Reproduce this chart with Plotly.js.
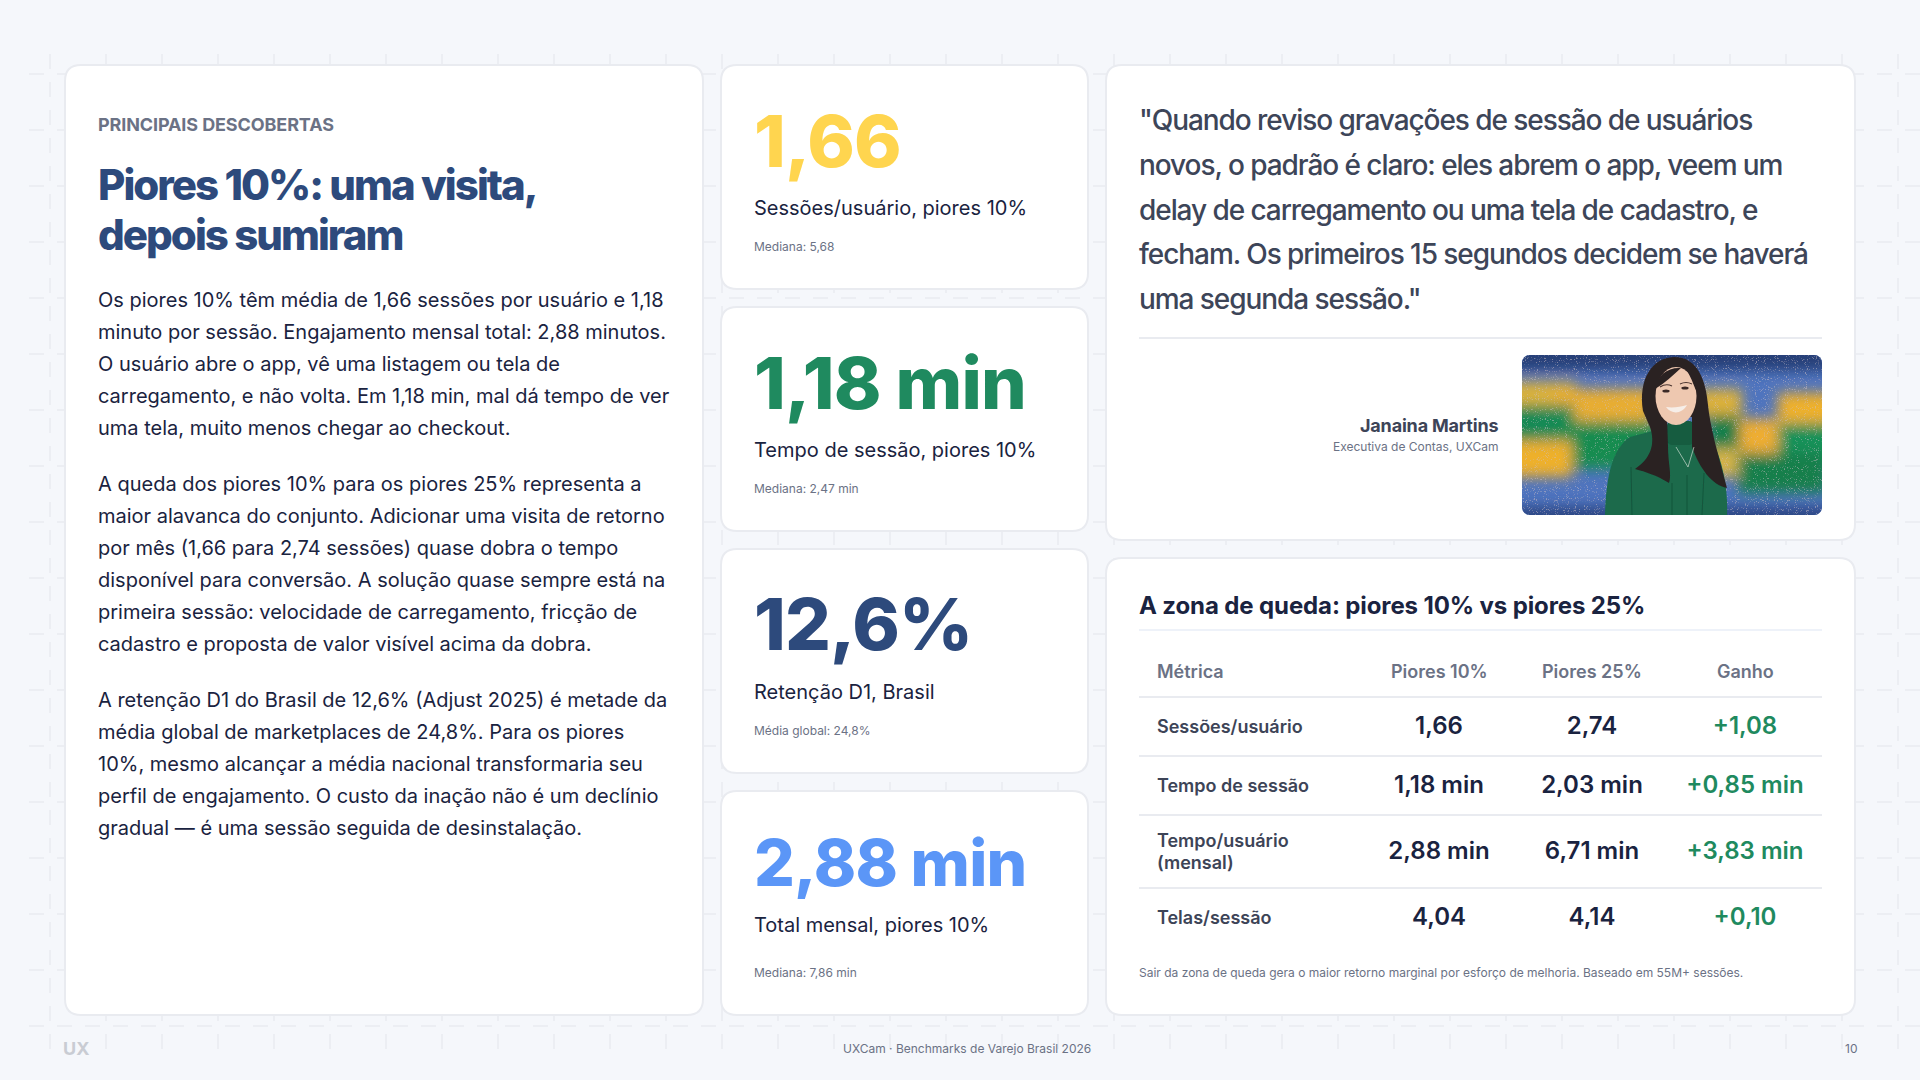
<!DOCTYPE html>
<html lang="pt-BR">
<head>
<meta charset="utf-8">
<title>Piores 10%</title>
<script src="https://cdn.plot.ly/plotly-3.0.1.min.js"></script>
<style>
  html, body { margin: 0; padding: 0; background: #f5f7fb; }
  #grafico { width: 1920px; height: 1080px; }
</style>
</head>
<body>
<div id="grafico"></div>
<script>
// textos do painel esquerdo
const rotuloSecao = "PRINCIPAIS DESCOBERTAS";
const tituloLinhas = ["Piores 10%: uma visita,", "depois sumiram"];
const paragrafo1 = [
  "Os piores 10% têm média de 1,66 sessões por usuário e 1,18",
  "minuto por sessão. Engajamento mensal total: 2,88 minutos.",
  "O usuário abre o app, vê uma listagem ou tela de",
  "carregamento, e não volta. Em 1,18 min, mal dá tempo de ver",
  "uma tela, muito menos chegar ao checkout."
];
const paragrafo2 = [
  "A queda dos piores 10% para os piores 25% representa a",
  "maior alavanca do conjunto. Adicionar uma visita de retorno",
  "por mês (1,66 para 2,74 sessões) quase dobra o tempo",
  "disponível para conversão. A solução quase sempre está na",
  "primeira sessão: velocidade de carregamento, fricção de",
  "cadastro e proposta de valor visível acima da dobra."
];
const paragrafo3 = [
  "A retenção D1 do Brasil de 12,6% (Adjust 2025) é metade da",
  "média global de marketplaces de 24,8%. Para os piores",
  "10%, mesmo alcançar a média nacional transformaria seu",
  "perfil de engajamento. O custo da inação não é um declínio",
  "gradual — é uma sessão seguida de desinstalação."
];

// cartões de KPI
const kpiValores = ["1,66", "1,18 min", "12,6%", "2,88 min"];
const kpiRotulos = ["Sessões/usuário, piores 10%", "Tempo de sessão, piores 10%", "Retenção D1, Brasil", "Total mensal, piores 10%"];
const kpiNotas = ["Mediana: 5,68", "Mediana: 2,47 min", "Média global: 24,8%", "Mediana: 7,86 min"];
const kpiCores = ["#ffd54f", "#1f8a5f", "#2d4a7c", "#5b96f7"];

// citação
const citacaoLinhas = [
  "\"Quando reviso gravações de sessão de usuários",
  "novos, o padrão é claro: eles abrem o app, veem um",
  "delay de carregamento ou uma tela de cadastro, e",
  "fecham. Os primeiros 15 segundos decidem se haverá",
  "uma segunda sessão.\""
];
const autorNome = "Janaina Martins";
const autorCargo = "Executiva de Contas, UXCam";

// tabela
const tabelaTitulo = "A zona de queda: piores 10% vs piores 25%";
const colunas = ["Métrica", "Piores 10%", "Piores 25%", "Ganho"];
const metricas = ["Sessões/usuário", "Tempo de sessão", "Tempo/usuário<br>(mensal)", "Telas/sessão"];
const piores10 = ["1,66", "1,18 min", "2,88 min", "4,04"];
const piores25 = ["2,74", "2,03 min", "6,71 min", "4,14"];
const ganhos = ["+1,08", "+0,85 min", "+3,83 min", "+0,10"];
const notaTabela = "Sair da zona de queda gera o maior retorno marginal por esforço de melhoria. Baseado em 55M+ sessões.";

const rodapeMarca = "UX";
const rodapeTexto = "UXCam · Benchmarks de Varejo Brasil 2026";
const rodapePagina = "10";

const FONTE = "Inter, 'Noto Sans', sans-serif";
const shapes = [];
const annotations = [];

function texto(x, y, conteudo, tam, cor, peso, anchor, espaco) {
  const t = espaco ? `<span style="letter-spacing:${espaco}">${conteudo}</span>` : conteudo;
  annotations.push({
    x: x, y: y, xref: 'x', yref: 'y', text: t, showarrow: false,
    xanchor: anchor || 'left', yanchor: 'middle', align: anchor || 'left',
    borderwidth: 0, borderpad: 0,
    font: { family: FONTE, size: tam, color: cor, weight: peso || 400 }
  });
}

function cartao(x0, y0, x1, y1) {
  const r = 16;
  const a = x0, b = y0, c = x1, d = y1;
  shapes.push({
    type: 'path', xref: 'x', yref: 'y', layer: 'below',
    path: `M${a + r},${b} L${c - r},${b} Q${c},${b} ${c},${b + r} L${c},${d - r} Q${c},${d} ${c - r},${d} L${a + r},${d} Q${a},${d} ${a},${d - r} L${a},${b + r} Q${a},${b} ${a + r},${b} Z`,
    fillcolor: '#ffffff', line: { color: '#e9ebf0', width: 2 }
  });
}

function linha(x0, y0, x1, y1, cor, dash) {
  shapes.push({
    type: 'line', xref: 'x', yref: 'y', layer: 'below', x0, y0, x1, y1,
    line: { color: cor, width: 2, dash: dash || 'solid' }
  });
}

// grade tracejada do fundo
for (let x = 50; x <= 1898; x += 56) linha(x, 54, x, 1050, '#eceef3', '15px,13px');
for (let y = 74; y <= 1026; y += 56) linha(29, y, 1920, y, '#eceef3', '15px,13px');

// cartões
cartao(65, 65, 703, 1015);
cartao(721, 65, 1088, 289);
cartao(721, 307, 1088, 531);
cartao(721, 549, 1088, 773);
cartao(721, 791, 1088, 1015);
cartao(1106, 65, 1855, 540);
cartao(1106, 558, 1855, 1015);

// painel esquerdo
texto(98, 124.5, rotuloSecao, 18, '#6b7285', 700, 'left', '-0.006em');
tituloLinhas.forEach((l, i) => texto(98, 184.5 + i * 50.4, l, 42, '#2d4a7c', 800, 'left', '-0.047em'));
paragrafo1.forEach((l, i) => texto(98, 300 + i * 32, l, 20, '#1a2340'));
paragrafo2.forEach((l, i) => texto(98, 484 + i * 32, l, 20, '#1a2340'));
paragrafo3.forEach((l, i) => texto(98, 700 + i * 32, l, 20, '#1a2340'));

// KPIs
const kpiTopos = [65, 307, 549, 791];
const kpiOffValor = [75, 75, 74, 71];
const kpiOffRotulo = [143, 143, 143, 134];
const kpiTam = [72, 72, 72, 64];
kpiValores.forEach((v, i) => {
  texto(754, kpiTopos[i] + kpiOffValor[i], v, kpiTam[i], kpiCores[i], 800, 'left', '-0.012em');
  texto(754, kpiTopos[i] + kpiOffRotulo[i], kpiRotulos[i], 20, '#1a2340');
  texto(754, kpiTopos[i] + 181, kpiNotas[i], 12, '#6b7285');
});

// citação e autora
citacaoLinhas.forEach((l, i) => texto(1139, 120 + i * 44.8, l, 28, '#3d4558', 500, 'left', '-0.038em'));
linha(1139, 338, 1822, 338, '#e9ebf0');
texto(1497.5, 425.5, autorNome, 18, '#3d4457', 700, 'right', '-0.01em');
texto(1497.5, 446, autorCargo, 12, '#6b7285', 400, 'right');

// tabela
texto(1139, 605, tabelaTitulo, 24, '#1a2340', 700, 'left', '-0.005em');
linha(1139, 630, 1822, 630, '#eef2f9');
const colX = [1157, 1439, 1592, 1745];
colunas.forEach((c, i) => texto(colX[i], 671, c, 18, '#6b7285', 600, i ? 'center' : 'left'));
const linhasTabela = [697, 756, 815, 888];
linhasTabela.forEach(y => linha(1139, y, 1822, y, '#e9ebf0'));
const linhaY = [727.5, 786.5, 852.5, 918.5];
metricas.forEach((m, i) => {
  const partes = m.split('<br>');
  partes.forEach((p, j) => texto(colX[0], linhaY[i] - 1 + (j - (partes.length - 1) / 2) * 21.6, p, 18, '#3d4457', 600));
});

// nota e rodapé
texto(1139, 972, notaTabela, 12, '#6b7285');
texto(63, 1048, rodapeMarca, 18, '#c9ccd3', 700);
texto(967, 1048, rodapeTexto, 12, '#6b7285', 400, 'center');
texto(1856.5, 1048, rodapePagina, 12, '#6b7285', 400, 'right');

// retrato (ilustração em SVG)
const foto = [
  '<svg xmlns="http://www.w3.org/2000/svg" width="600" height="320" viewBox="0 0 300 160">',
  '<defs><filter id="b" x="-30%" y="-30%" width="160%" height="160%"><feGaussianBlur stdDeviation="6.5"/></filter>',
  '<filter id="s"><feGaussianBlur stdDeviation="0.5"/></filter>',
  '<filter id="n"><feTurbulence type="fractalNoise" baseFrequency="1.1" numOctaves="1" seed="4"/>',
  '<feColorMatrix values="0 0 0 0 0.62 0 0 0 0 0.52 0 0 0 0 0.56 9 0 0 0 -5.4"/></filter>',
  '<clipPath id="c"><rect width="300" height="160" rx="8"/></clipPath></defs>',
  '<g clip-path="url(#c)"><rect width="300" height="160" fill="#4f74be"/>',
  '<g filter="url(#b)">',
  '<rect x="-20" y="-20" width="340" height="36" fill="#263f78"/>',
  '<rect x="-20" y="27" width="74" height="24" fill="#dcb23a"/>',
  '<rect x="30" y="34" width="100" height="34" fill="#e8ad30"/>',
  '<rect x="-20" y="50" width="72" height="36" fill="#148a55"/>',
  '<rect x="36" y="66" width="100" height="48" fill="#178c50"/>',
  '<rect x="-20" y="86" width="70" height="36" fill="#eeb02a"/>',
  '<rect x="176" y="34" width="44" height="28" fill="#dcb13a"/>',
  '<rect x="186" y="60" width="36" height="34" fill="#127f4a"/>',
  '<rect x="186" y="94" width="40" height="28" fill="#d4b448"/>',
  '<rect x="218" y="64" width="42" height="34" fill="#eead32"/>',
  '<rect x="256" y="38" width="64" height="30" fill="#eeb02a"/>',
  '<rect x="256" y="68" width="64" height="42" fill="#189158"/>',
  '<rect x="216" y="98" width="90" height="40" fill="#137f4b"/>',
  '<rect x="-20" y="152" width="340" height="30" fill="#2a4482"/>',
  '</g>',
  '<rect width="300" height="160" filter="url(#n)" opacity="0.5"/>',
  '<g filter="url(#s)">',
  '<path d="M83,160 C84,122 90,94 108,82 L146,72 L172,72 L190,84 C202,110 206,136 205,160 Z" fill="#1a6b4b"/>',
  '<path d="M110,160 L109,112 M150,160 L150,128 M165,160 L165,120 M180,160 L182,118" stroke="#114f38" stroke-width="0.8" fill="none"/>',
  '<rect x="145" y="66" width="27" height="24" rx="5" fill="#125c40"/>',
  '<path d="M121,56 C116,24 130,3 152,2 C176,2 184,26 186,50 C188,70 194,92 205,133 C190,130 178,114 170,92 L170,62 L145,62 L146,92 C146,108 150,120 147,128 C134,120 124,117 113,114 C128,104 134,90 128,72 Z" fill="#2c2122"/>',
  '<ellipse cx="154" cy="41" rx="20.5" ry="29" fill="#eec8b0"/>',
  '<path d="M133,34 C135,20 146,12 159,13 C151,20 143,28 133,34 Z" fill="#2c2122"/>',
  '<path d="M164,14 C171,20 175,28 175,38 C171,28 168,20 164,14 Z" fill="#2c2122"/>',
  '<path d="M138,32 Q144,28 150,31 M158,29 Q164,26 170,29" stroke="#4a3430" stroke-width="1.1" fill="none"/>',
  '<ellipse cx="144" cy="36" rx="3.6" ry="1.5" fill="#3a2a28"/><ellipse cx="163" cy="33" rx="3.6" ry="1.5" fill="#3a2a28"/>',
  '<path d="M144,52 C150,60 160,59 165,50 C158,52 151,53 144,52 Z" fill="#f6eee8"/>',
  '<path d="M154,92 L166,112 L172,92" fill="none" stroke="#cfd8cf" stroke-width="0.7"/>',
  '</g></g></svg>'
].join('');

const trazos = [
  { nome: piores10, col: 1, cor: '#1a2340' },
  { nome: piores25, col: 2, cor: '#1a2340' },
  { nome: ganhos, col: 3, cor: '#1f8a5f' }
].map(t => ({
  type: 'scatter', mode: 'text', cliponaxis: false, hoverinfo: 'skip',
  x: t.nome.map(() => colX[t.col]),
  y: linhaY,
  text: t.nome,
  textposition: 'middle center',
  textfont: { family: FONTE, size: 24, color: t.cor, weight: 600 }
}));

const layout = {
  width: 1920, height: 1080,
  margin: { l: 0, r: 0, t: 0, b: 0 },
  paper_bgcolor: '#f5f7fb', plot_bgcolor: 'rgba(0,0,0,0)',
  showlegend: false, hovermode: false,
  xaxis: { range: [0, 1920], visible: false, fixedrange: true },
  yaxis: { range: [1080, 0], visible: false, fixedrange: true },
  shapes: shapes,
  annotations: annotations,
  images: [{
    source: 'data:image/svg+xml;charset=utf-8,' + encodeURIComponent(foto),
    xref: 'x', yref: 'y', x: 1522, y: 355, sizex: 300, sizey: 160,
    xanchor: 'left', yanchor: 'top', sizing: 'stretch', layer: 'above'
  }]
};

Plotly.newPlot('grafico', trazos, layout, { displayModeBar: false, staticPlot: true });
</script>
</body>
</html>
